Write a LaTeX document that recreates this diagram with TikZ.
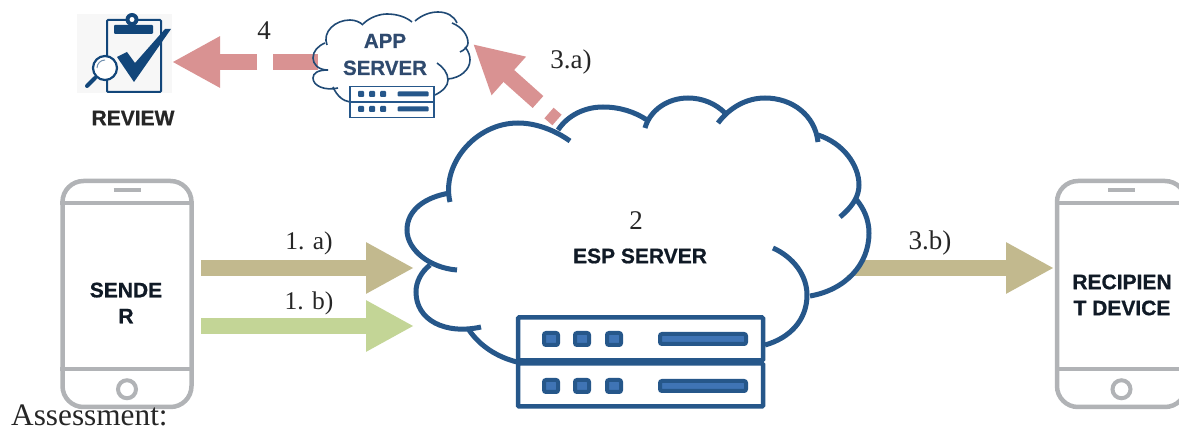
\documentclass[tikz,border=0pt]{standalone}
\usepackage{fontspec}
\setmainfont{Liberation Serif}
\newfontfamily\labelfont{Liberation Sans Bold}[FakeBold=0.8]
\usetikzlibrary{arrows.meta, calc, positioning}
\definecolor{khakifill}{HTML}{C2B98E}
\definecolor{greenfill}{HTML}{C3D596}
\definecolor{pinkfill}{HTML}{D99292}
\definecolor{cloudblue}{HTML}{26578A}
\definecolor{lightblue}{HTML}{3F74B5}
\definecolor{phonegrey}{HTML}{B1B3B6}
\definecolor{clipblue}{HTML}{12467A}
\definecolor{labeldark}{HTML}{101A26}
\definecolor{appdark}{HTML}{2F4A6E}

\begin{document}
\begin{tikzpicture}[x=1pt,y=-1pt,
  phone/.style = {draw=phonegrey, line width=4.5pt, rounded corners=21pt, minimum width=129pt, minimum height=226pt, inner sep=0pt},
  phoneline/.style = {draw=phonegrey, line width=4pt},
  fatarrow/.style = {line width=16pt, -{Triangle[length=48pt,width=48pt]}},
  plainbar/.style = {line width=16pt},
  cloudline/.style = {draw=cloudblue, line width=5pt},
  smallcloud/.style = {draw=cloudblue!85!black, line width=1.6pt},
  bigrack/.style = {draw=cloudblue, fill=white, line width=4.5pt, rounded corners=1pt, minimum width=245pt, minimum height=43pt, inner sep=0pt},
  smallrack/.style = {draw=cloudblue, fill=white, line width=1.6pt, minimum width=84pt, minimum height=15pt, inner sep=0pt},
  biglight/.style = {draw=cloudblue, fill=lightblue, line width=4pt, rounded corners=2pt, minimum width=14pt, minimum height=12pt, inner sep=0pt},
  bigbar/.style = {draw=cloudblue, fill=lightblue, line width=4pt, rounded corners=2pt, minimum width=86pt, minimum height=10pt, inner sep=0pt},
  smalllight/.style = {fill=cloudblue, rounded corners=1pt, minimum width=6pt, minimum height=6pt, inner sep=0pt},
  smallbar/.style = {fill=cloudblue, rounded corners=1pt, minimum width=31pt, minimum height=5pt, inner sep=0pt},
  steplabel/.style = {font=\fontsize{27}{30}\selectfont, text=black!85, inner sep=0pt},
  onelabel/.style = {font=\fontsize{25.5}{28}\selectfont, text=black!85, inner sep=0pt},
  boxlabel/.style = {font=\labelfont\fontsize{21}{26}\selectfont, text=labeldark, align=center, inner sep=0pt}]
\clip[use as bounding box] (0,0) rectangle (1179,430);

% phones
\node[phone] (sender) at (127,294) {};
\node[phone] (recipient) at (1121.5,294) {};
\foreach \ph in {sender,recipient}{
  \draw[phoneline] ($(\ph.north west)+(0,24)$) -- ($(\ph.north east)+(0,24)$);
  \draw[phoneline] ($(\ph.south west)+(0,-40)$) -- ($(\ph.south east)+(0,-40)$);
  \draw[phoneline] ($(\ph.north)+(-13.5,11)$) -- ($(\ph.north)+(13.5,11)$);
  \draw[phoneline] ($(\ph.south)+(0,-20)$) circle (9);
}
\node[boxlabel] (sendertext) at (126,303) {SENDE\\R};
\node[boxlabel] (recipienttext) at (1122,295) {RECIPIEN\\T DEVICE};

% arrow end points
\coordinate (a1start) at (201,268);
\coordinate (a1end) at (414,268);
\coordinate (b1start) at (201,326);
\coordinate (b1end) at (414,326);
\coordinate (b3start) at (840,268);
\coordinate (b3end) at (1054,268);
\coordinate (a3start) at (538,102);
\coordinate (a3end) at (473,44);
\coordinate (a3dasha) at (549,113);
\coordinate (a3dashb) at (557,120);
\coordinate (d4start) at (257,62);
\coordinate (d4end) at (172,62);
\coordinate (d4dasha) at (318,62);
\coordinate (d4dashb) at (273,62);

\draw[fatarrow, khakifill] (b3start) -- (b3end);
\draw[fatarrow, pinkfill] (a3start) -- (a3end);
\draw[fatarrow, pinkfill] (d4start) -- (d4end);
\draw[plainbar, pinkfill] (d4dasha) -- (d4dashb);

% big cloud
\fill[white] plot[smooth cycle, tension=1] coordinates {(447,180) (483,130) (577,115) (688,98) (765,98) (818,135) (859,180) (869,233) (857,267) (810,296) (765,345) (517,362) (433,322) (417,292) (408,247) (420,205)};
\draw[fatarrow, khakifill] (a1start) -- (a1end);
\draw[fatarrow, greenfill] (b1start) -- (b1end);
\draw[plainbar, pinkfill, line width=14pt] (a3dasha) -- (a3dashb);
\draw[cloudline] (450,202) .. controls (441,165) and (475,123) .. (518,123) .. controls (537,123) and (556,131) .. (570,141);
\draw[cloudline] (558,130) .. controls (568,115) and (585,107) .. (603,107) .. controls (620,107) and (635,112) .. (647,120);
\draw[cloudline] (645,128) .. controls (650,110) and (668,98) .. (688,98) .. controls (703,98) and (716,104) .. (725,113);
\draw[cloudline] (718,123) .. controls (730,107) and (747,98) .. (765,98) .. controls (792,98) and (815,115) .. (818,142);
\draw[cloudline] (818,135) .. controls (843,143) and (859,165) .. (859,185) .. controls (859,197) and (852,207) .. (840,217);
\draw[cloudline] (855,198) .. controls (864,208) and (869,220) .. (869,233) .. controls (869,265) and (845,290) .. (810,296);
\draw[cloudline] (773,248) .. controls (793,257) and (807,275) .. (807,295) .. controls (807,320) and (790,338) .. (765,345);
\draw[cloudline] (517,362) .. controls (497,357) and (480,346) .. (469,330);
\draw[cloudline] (481,327) .. controls (445,335) and (416,320) .. (416,292) .. controls (416,282) and (421,272) .. (430,265);
\draw[cloudline] (457,270) .. controls (430,268) and (407,250) .. (407,230) .. controls (407,210) and (425,197) .. (450,193);

% big server
\node[bigrack] (rack1) at (640.5,339) {};
\node[bigrack] (rack2) at (640.5,385) {};
\foreach \y in {339,386}{
  \foreach \x in {551,582,614}
    \node[biglight] (light\x\y) at (\x,\y) {};
  \node[bigbar] (bar\y) at (703,\y) {};
}
\node[steplabel] (esptwo) at (636,221) {2};
\node[boxlabel] (esptext) at (640,256) {ESP SERVER};

% app server cloud
\draw[smallcloud] (328,70) .. controls (318,70) and (313,64) .. (313,58) .. controls (313,51) and (318,46) .. (325,43);
\draw[smallcloud] (327,45) .. controls (322,32) and (335,20) .. (350,20) .. controls (355,20) and (360,22) .. (363,25);
\draw[smallcloud] (363,24) .. controls (370,17) and (380,14) .. (387,14) .. controls (397,14) and (406,17) .. (412,22);
\draw[smallcloud] (415,21) .. controls (422,15) and (430,12) .. (438,12) .. controls (447,12) and (454,16) .. (457,23);
\draw[smallcloud] (452,23) .. controls (462,27) and (468,35) .. (468,43) .. controls (468,46) and (465,50) .. (460,52);
\draw[smallcloud] (465,47) .. controls (469,52) and (470,56) .. (470,60) .. controls (470,70) and (460,78) .. (448,79);
\draw[smallcloud] (437,63) .. controls (443,67) and (448,73) .. (448,80) .. controls (448,86) and (443,91) .. (435,95);
\draw[smallcloud] (350,102) .. controls (343,101) and (337,96) .. (333,87);
\draw[smallcloud] (338,88) .. controls (325,91) and (313,86) .. (313,78) .. controls (313,73) and (318,70) .. (328,70);
\node[smallrack] (apprack1) at (392,94) {};
\node[smallrack] (apprack2) at (392,110) {};
\foreach \y in {94,109}{
  \foreach \x in {361,372,383}
    \node[smalllight] (applight\x\y) at (\x,\y) {};
  \node[smallbar] (appbar\y) at (413,\y) {};
}
\node[boxlabel, text=appdark, font=\labelfont\fontsize{20.5}{27}\selectfont] (apptext) at (385,54.5) {APP\\SERVER};

% review icon
\fill[black!3] (77,14) rectangle (172,93);
\draw[clipblue, line width=2pt, rounded corners=1pt] (107,20) rectangle (161,92);
\fill[clipblue, rounded corners=1pt] (114,25) rectangle (153,34);
\fill[clipblue] (132,19.5) circle (6.5);
\fill[white] (132,19.5) circle (2.5);
\fill[clipblue] (117,57) -- (127,52) -- (135,63) -- (165,29) -- (171,29) -- (134,82) -- cycle;
\draw[clipblue, line width=4pt, line cap=round] (95,78) -- (87,86);
\draw[clipblue, fill=white, line width=2.2pt] (105,68) circle (12);
\draw[clipblue!60, line width=1pt] (97,68) arc (180:270:8);
\node[boxlabel, text=black!85] (reviewtext) at (133,118) {REVIEW};

% step labels
\node[onelabel] (steponea) at (309,243.5) {1. a)};
\node[onelabel] (steponeb) at (309,303.5) {1. b)};
\node[steplabel] (stepthreeb) at (930,243) {3.b)};
\node[steplabel] (stepthreea) at (571,62) {3.a)};
\node[steplabel] (stepfour) at (264,31) {4};
\node[anchor=base west, inner sep=0pt, font=\fontsize{31.3}{34}\selectfont, text=black!85] (assess) at (11,425) {Assessment:};
\end{tikzpicture}
\end{document}
